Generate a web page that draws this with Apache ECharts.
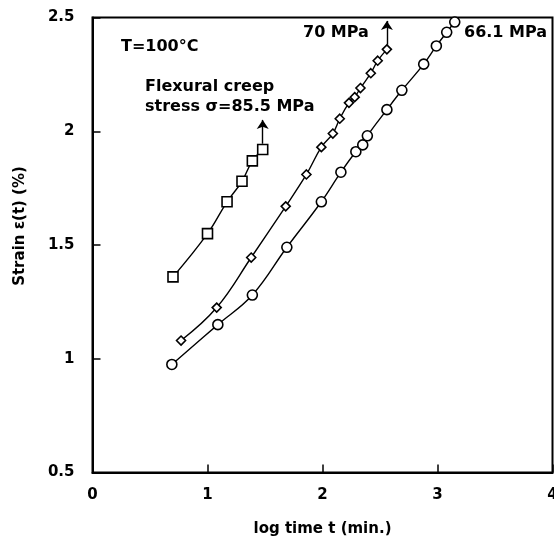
<!DOCTYPE html>
<html>
<head>
<meta charset="utf-8">
<script src="https://cdn.jsdelivr.net/npm/echarts@6/dist/echarts.min.js"></script>
<style>
  html, body { margin: 0; padding: 0; background: #fff; }
  #chart { width: 554px; height: 550px; }
</style>
</head>
<body>
<div id="chart"></div>
<script>
// log time t (min.) / strain (%)
var sq855X = [0.70, 1.00, 1.17, 1.30, 1.39, 1.48]
var sq855Y = [1.36, 1.55, 1.69, 1.78, 1.87, 1.92]

var dia70X = [0.77, 1.08, 1.38, 1.68, 1.86, 1.99, 2.09, 2.15, 2.23, 2.28, 2.33, 2.42, 2.48, 2.56]
var dia70Y = [1.08, 1.225, 1.445, 1.67, 1.81, 1.93, 1.99, 2.055, 2.125, 2.15, 2.19, 2.255, 2.31, 2.36]

var circ661X = [0.69, 1.09, 1.39, 1.69, 1.99, 2.16, 2.29, 2.35, 2.39, 2.56, 2.69, 2.88, 2.99, 3.08, 3.15]
var circ661Y = [0.975, 1.15, 1.28, 1.49, 1.69, 1.82, 1.91, 1.94, 1.98, 2.095, 2.18, 2.295, 2.375, 2.435, 2.48]

var xTicks = [0, 1, 2, 3, 4]
var yTicks = [0.5, 1, 1.5, 2, 2.5]

function pairs(xs, ys) {
  return xs.map(function (x, i) { return [x, ys[i]] })
}

var font = 'DejaVu Sans'
var chart = echarts.init(document.getElementById('chart'))

function curve(name, xs, ys, symbol, size, arrow) {
  var s = {
    name: name,
    type: 'line',
    data: pairs(xs, ys),
    smooth: 0.4,
    symbol: symbol,
    symbolSize: size,
    lineStyle: { color: '#000', width: 1.4 },
    itemStyle: { color: '#fff', borderColor: '#000', borderWidth: 1.6 },
    z: 3
  }
  if (arrow) {
    s.markLine = {
      silent: true,
      symbol: ['none', 'arrow'],
      symbolSize: 9,
      label: { show: false },
      lineStyle: { color: '#000', width: 1.4, type: 'solid' },
      data: [[{ coord: arrow[0] }, { coord: arrow[1] }]]
    }
  }
  return s
}

chart.setOption({
  animation: false,
  grid: {
    left: 92.5, right: 1.5, top: 17.5, bottom: 77.5,
    outerBoundsMode: 'none',
    show: true, borderColor: '#000', borderWidth: 2
  },
  xAxis: {
    type: 'value',
    min: xTicks[0], max: xTicks[xTicks.length - 1], interval: 1,
    name: 'log time t (min.)',
    nameLocation: 'middle',
    nameGap: 49,
    nameTextStyle: { fontFamily: font, fontWeight: 'bold', fontSize: 15, color: '#000' },
    axisLine: { lineStyle: { color: '#000', width: 2 } },
    axisTick: { inside: true, length: 8, lineStyle: { color: '#000', width: 1.5 } },
    axisLabel: { margin: 15, fontFamily: font, fontWeight: 'bold', fontSize: 15, color: '#000' },
    splitLine: { show: false }
  },
  yAxis: {
    type: 'value',
    min: yTicks[0], max: yTicks[yTicks.length - 1], interval: 0.5,
    axisLine: { show: true, lineStyle: { color: '#000', width: 2 } },
    axisTick: { show: true, inside: true, length: 8, lineStyle: { color: '#000', width: 1.5 } },
    axisLabel: { margin: 18, fontFamily: font, fontWeight: 'bold', fontSize: 15, color: '#000' },
    splitLine: { show: false }
  },
  graphic: [
    {
      type: 'text', x: 20, y: 226, rotation: Math.PI / 2,
      style: { text: 'Strain ε(t) (%)', font: 'bold 15px ' + font, fill: '#000', align: 'center', verticalAlign: 'middle' }
    },
    { type: 'text', x: 121, y: 47, style: { text: 'T=100°C', font: 'bold 16px ' + font, fill: '#000', verticalAlign: 'middle' } },
    { type: 'text', x: 145, y: 87, style: { text: 'Flexural creep', font: 'bold 16px ' + font, fill: '#000', verticalAlign: 'middle' } },
    { type: 'text', x: 145, y: 107, style: { text: 'stress σ=85.5 MPa', font: 'bold 16px ' + font, fill: '#000', verticalAlign: 'middle' } },
    { type: 'text', x: 303, y: 33, style: { text: '70 MPa', font: 'bold 16px ' + font, fill: '#000', verticalAlign: 'middle' } },
    { type: 'text', x: 464, y: 33, style: { text: '66.1 MPa', font: 'bold 16px ' + font, fill: '#000', verticalAlign: 'middle' } }
  ],
  series: [
    curve('85.5 MPa', sq855X, sq855Y, 'rect', 10, [[1.48, 1.945], [1.48, 2.05]]),
    curve('70 MPa', dia70X, dia70Y, 'diamond', 9, [[2.56, 2.38], [2.56, 2.485]]),
    curve('66.1 MPa', circ661X, circ661Y, 'circle', 10, null)
  ]
})
</script>
</body>
</html>
